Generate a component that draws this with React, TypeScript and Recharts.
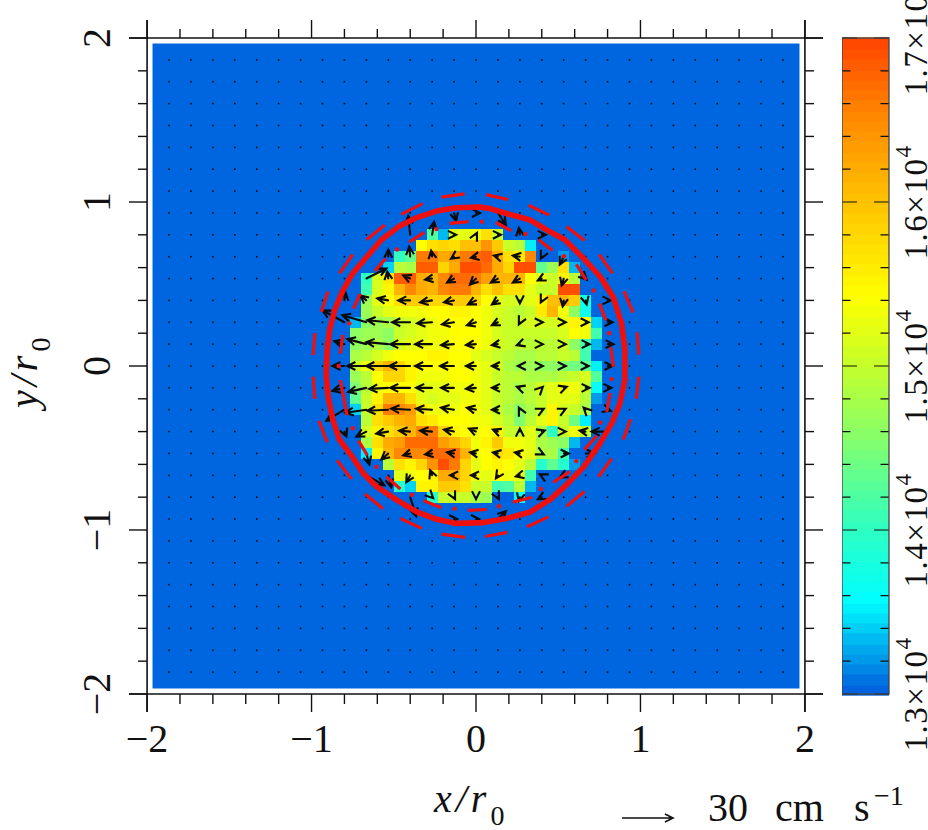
import React from 'react';
import { ScatterChart, Scatter, XAxis, YAxis, ReferenceArea, ReferenceLine } from 'recharts';

const FONT = '"Liberation Serif", serif';
const INK = '#111';
const RED = '#f00f0f';

const xTicks = [-2, -1.8, -1.6, -1.4, -1.2, -1, -0.8, -0.6, -0.4, -0.2, 0, 0.2, 0.4, 0.6, 0.8, 1, 1.2, 1.4, 1.6, 1.8, 2];
const yTicks = xTicks;
const colorTicks = [130, 132, 134, 136, 138, 140, 142, 144, 146, 148, 150, 152, 154, 156, 158, 160, 162, 164, 166, 168, 170];
const colorLabels = ['1.3', '1.4', '1.5', '1.6', '1.7'];

// density in units of 100, grid step is 1/15 r0
const densityRowJ = [12, 11, 10, 9, 8, 7, 6, 5, 4, 3, 2, 1, 0, -1, -2, -3, -4, -5, -6, -7, -8, -9, -10, -11, -12];
const densityRowStart = [-4, -5, -7, -8, -10, -10, -10, -10, -11, -11, -11, -11, -11, -11, -11, -11, -11, -10, -10, -10, -10, -8, -7, -7, -4];
const densityRows = [
  [142, 133, 152, 152, 153, 157, 150],
  [154, 157, 158, 157, 160, 160, 164, 159, 150, 149, 135],
  [140, 143, 166, 166, 162, 163, 166, 167, 168, 162, 157, 156, 165, 130, 130, 132],
  [134, 149, 148, 168, 168, 158, 162, 169, 169, 167, 162, 158, 169, 169, 143, 147, 157, 133],
  [140, 151, 156, 168, 168, 162, 161, 165, 167, 167, 166, 163, 161, 161, 161, 154, 152, 150, 155, 149],
  [141, 151, 155, 161, 165, 162, 161, 165, 166, 166, 161, 157, 160, 157, 157, 152, 150, 150, 169, 169],
  [147, 152, 154, 157, 159, 159, 158, 158, 159, 159, 158, 154, 152, 151, 151, 152, 155, 160, 161, 159, 137],
  [147, 150, 152, 153, 153, 153, 154, 154, 155, 155, 154, 153, 151, 150, 149, 150, 156, 161, 153, 146, 137],
  [133, 146, 147, 148, 150, 151, 152, 153, 154, 154, 154, 154, 153, 151, 150, 150, 151, 151, 151, 152, 155, 154, 134],
  [146, 147, 147, 146, 150, 151, 152, 153, 153, 154, 154, 154, 153, 151, 150, 150, 150, 150, 150, 151, 154, 153, 141],
  [146, 147, 148, 146, 151, 152, 153, 153, 153, 154, 154, 154, 153, 151, 150, 149, 149, 149, 149, 150, 146, 141, 133],
  [148, 149, 151, 153, 154, 154, 154, 155, 155, 154, 154, 152, 151, 150, 149, 148, 148, 149, 149, 150, 149, 141],
  [150, 153, 158, 161, 158, 155, 154, 154, 154, 154, 154, 153, 152, 151, 148, 147, 147, 146, 146, 145, 144, 143, 135],
  [147, 149, 154, 158, 158, 155, 153, 153, 153, 154, 154, 153, 152, 150, 149, 149, 148, 148, 148, 149, 150, 151, 142],
  [145, 149, 153, 154, 154, 154, 152, 152, 152, 153, 153, 153, 152, 150, 149, 148, 149, 151, 152, 153, 153, 150, 136],
  [143, 150, 155, 161, 161, 157, 152, 151, 152, 152, 153, 153, 152, 150, 149, 148, 149, 150, 152, 152, 152, 149, 132],
  [134, 150, 157, 166, 165, 163, 156, 153, 153, 153, 154, 153, 152, 150, 148, 146, 148, 150, 155, 151, 150, 148],
  [149, 157, 159, 161, 162, 157, 156, 154, 154, 154, 153, 153, 151, 149, 145, 149, 152, 155, 150, 144, 135],
  [151, 155, 157, 159, 161, 165, 166, 158, 155, 154, 153, 154, 155, 150, 150, 152, 148, 140, 150, 153, 150],
  [148, 157, 162, 163, 167, 167, 167, 163, 161, 158, 153, 155, 159, 153, 153, 152, 148, 147, 146, 133],
  [135, 155, 161, 165, 165, 165, 167, 167, 167, 161, 153, 154, 157, 156, 154, 152, 148, 148, 141],
  [149, 157, 155, 158, 164, 169, 166, 158, 152, 154, 155, 154, 152, 149, 139, 143, 139, 132],
  [152, 153, 154, 155, 162, 162, 158, 153, 152, 154, 153, 152, 141],
  [139, 134, 155, 155, 159, 159, 157, 150, 150, 141, 142, 149, 133],
  [139, 150, 150, 150, 148, 147, 130, 130, 136],
];

// velocity sample points, same 1/15 r0 index, every second cell
const velocityGrid = [-28, -26, -24, -22, -20, -18, -16, -14, -12, -10, -8, -6, -4, -2, 0, 2, 4, 6, 8, 10, 12, 14, 16, 18, 20, 22, 24, 26, 28];

// [i, j, vx, vy], 51 units = the 30 cm/s key arrow
const velocityArrows = [
  [-2, 14, 2, -8], [0, 14, 4, 0], [2, 14, 8, -12],
  [-6, 12, -2, 19], [-4, 12, 2, 13], [-2, 12, 2, 0], [0, 12, 1, 2], [2, 12, 3, 0], [4, 12, -1, 7], [6, 12, 4, 0],
  [-8, 10, 0, 7], [-6, 10, -1, 10], [-4, 10, -1, 6], [-2, 10, -3, -2], [0, 10, -5, -1], [2, 10, -4, 1], [4, 10, -7, 1], [6, 10, -1, -2], [8, 10, -4, -8],
  [-10, 8, 20, 10], [-8, 8, -1, 7], [-6, 8, -7, 3], [-4, 8, -7, -1], [-2, 8, -7, -4], [0, 8, -6, -6], [2, 8, -7, -4], [4, 8, -7, -4], [6, 8, -4, -2], [8, 8, -2, -7], [10, 8, 1, -1],
  [-12, 6, 1, 8], [-10, 6, -6, 5], [-8, 6, -11, 2], [-6, 6, -12, 0], [-4, 6, -12, -2], [-2, 6, -10, -2], [0, 6, -8, -4], [2, 6, -6, -4], [4, 6, 0, -3], [6, 6, -1, -2], [8, 6, -1, -6], [10, 6, 1, -4], [12, 6, 3, 0],
  [-12, 4, -22, 12], [-10, 4, -24, 7], [-8, 4, -21, 2], [-6, 4, -18, 0], [-4, 4, -15, -1], [-2, 4, -12, -2], [0, 4, -9, -3], [2, 4, -6, -3], [4, 4, -1, -2], [6, 4, 1, 0], [8, 4, 2, 0], [10, 4, 3, 0], [12, 4, 5, 0],
  [-12, 2, -10, 3], [-10, 2, -19, 5], [-8, 2, -22, 2], [-6, 2, -20, 0], [-4, 2, -17, 0], [-2, 2, -13, -1], [0, 2, -10, -1], [2, 2, -6, -1], [4, 2, -3, -1], [6, 2, 1, 0], [8, 2, 2, 0], [10, 2, 4, 0], [12, 2, 6, 0],
  [-12, 0, -12, 0], [-10, 0, -19, 0], [-8, 0, -22, 0], [-6, 0, -21, 0], [-4, 0, -17, 0], [-2, 0, -14, 0], [0, 0, -10, 0], [2, 0, -6, 0], [4, 0, -2, 0], [6, 0, 1, 0], [8, 0, 2, 0], [10, 0, 3, 0], [12, 0, 5, 0],
  [-12, -2, -12, -3], [-10, -2, -18, -4], [-8, -2, -19, -1], [-6, -2, -20, 0], [-4, -2, -16, 0], [-2, -2, -13, 0], [0, -2, -10, -1], [2, -2, -6, 0], [4, -2, -3, 1], [6, -2, 1, 1], [8, -2, 3, 1], [10, -2, 4, 0], [12, -2, 4, 0],
  [-12, -4, -18, -11], [-10, -4, -21, -3], [-8, -4, -21, -1], [-6, -4, -19, 1], [-4, -4, -16, 1], [-2, -4, -13, 2], [0, -4, -9, 2], [2, -4, -6, 0], [4, -4, -1, 2], [6, -4, 2, 1], [8, -4, 2, 1], [10, -4, -2, 2], [12, -4, 3, -1],
  [-12, -6, 2, -5], [-10, -6, -10, -5], [-8, -6, -12, -2], [-6, -6, -11, 1], [-4, -6, -12, 1], [-2, -6, -10, 2], [0, -6, -7, 3], [2, -6, -5, 2], [4, -6, 0, 3], [6, -6, 3, 1], [8, -6, 2, 0], [10, -6, -6, 1], [12, -6, -16, 0],
  [-10, -8, 3, -11], [-8, -8, -7, -6], [-6, -8, -7, -2], [-4, -8, -7, -1], [-2, -8, -7, 1], [0, -8, -6, 1], [2, -8, -5, 1], [4, -8, -5, 1], [6, -8, 2, -1], [8, -8, 5, 0], [10, -8, 9, 0],
  [-10, -10, 18, -10], [-8, -10, 3, -12], [-6, -10, -4, -7], [-4, -10, -2, 5], [-2, -10, -4, 0], [0, -10, -5, 0], [2, -10, -2, -3], [4, -10, -4, -1], [6, -10, -2, 1], [8, -10, -4, -2],
  [-6, -12, 6, -19], [-4, -12, 1, -1], [-2, -12, 1, -2], [0, -12, 0, -2], [2, -12, 1, -2], [4, -12, -1, -4], [6, -12, -4, -2],
  [-2, -14, 3, 0], [0, -14, 3, 0], [2, -14, 8, 8],
];

// thick solid contour, read around the disc
const solidContour = [
  [-0.91, -0.02], [-0.905, 0.1], [-0.89, 0.22], [-0.86, 0.34], [-0.81, 0.46], [-0.75, 0.565], [-0.665, 0.665], [-0.575, 0.77], [-0.47, 0.85], [-0.36, 0.905], [-0.24, 0.945], [-0.12, 0.965], [0.02, 0.97],
  [0.085, 0.96], [0.185, 0.93], [0.33, 0.89], [0.43, 0.83], [0.54, 0.77], [0.655, 0.655], [0.755, 0.545], [0.835, 0.42], [0.885, 0.26], [0.905, 0.1],
  [0.905, 0], [0.905, -0.085], [0.875, -0.23], [0.825, -0.35], [0.755, -0.47], [0.655, -0.615], [0.55, -0.725], [0.45, -0.815], [0.33, -0.89], [0.185, -0.93], [0.045, -0.955],
  [-0.12, -0.96], [-0.24, -0.935], [-0.36, -0.89], [-0.485, -0.815], [-0.605, -0.735], [-0.685, -0.655], [-0.755, -0.55], [-0.83, -0.45], [-0.87, -0.33], [-0.9, -0.185], [-0.91, -0.065], [-0.91, -0.02],
];

// long dashes outside the solid contour: x1, y1, x2, y2
const outerDashes = [
  [-0.99, 0.067, -0.98, 0.2], [-0.94, 0.33, -0.9, 0.455], [-0.83, 0.565, -0.75, 0.68], [-0.665, 0.77, -0.555, 0.86], [-0.455, 0.925, -0.325, 0.99], [-0.21, 1.03, -0.07, 1.05],
  [0.06, 1.045, 0.195, 1.015], [0.32, 0.98, 0.445, 0.92], [0.55, 0.85, 0.66, 0.765], [0.75, 0.68, 0.83, 0.565], [0.9, 0.455, 0.955, 0.325], [0.98, 0.205, 0.99, 0.07],
  [0.99, -0.065, 0.975, -0.2], [0.94, -0.325, 0.895, -0.45], [0.825, -0.565, 0.745, -0.675], [0.66, -0.765, 0.55, -0.855], [0.44, -0.92, 0.31, -0.98], [0.19, -1.015, 0.055, -1.04],
  [-0.065, -1.045, -0.21, -1.025], [-0.33, -0.99, -0.46, -0.93], [-0.565, -0.87, -0.675, -0.78], [-0.757, -0.69, -0.845, -0.575], [-0.905, -0.465, -0.955, -0.335], [-0.98, -0.2, -0.99, -0.065],
];

// dash-dot contour inside the solid one
const innerDashes = [
  [-0.825, 0.075, -0.81, 0.19], [-0.745, 0.35, -0.705, 0.44], [-0.615, 0.58, -0.55, 0.655], [-0.405, 0.755, -0.315, 0.815], [-0.16, 0.87, -0.045, 0.88],
  [0.12, 0.875, 0.215, 0.825], [0.38, 0.77, 0.465, 0.705], [0.61, 0.62, 0.67, 0.525], [0.75, 0.38, 0.79, 0.28], [0.82, 0.115, 0.835, -0.005],
  [0.815, -0.165, 0.795, -0.28], [0.735, -0.425, 0.66, -0.51], [0.57, -0.645, 0.47, -0.71], [0.34, -0.8, 0.225, -0.83], [0.065, -0.875, -0.05, -0.88],
  [-0.21, -0.865, -0.32, -0.82], [-0.46, -0.75, -0.545, -0.675], [-0.66, -0.545, -0.715, -0.455], [-0.785, -0.3, -0.825, -0.085],
];
const innerDots = [
  [-0.77, 0.26], [-0.48, 0.71], [-0.24, 0.835], [0.035, 0.88], [0.3, 0.805], [0.535, 0.67], [0.715, 0.46], [0.81, 0.2],
  [0.825, -0.08], [0.755, -0.345], [0.61, -0.58], [0.395, -0.75], [0.14, -0.855], [-0.13, -0.87], [-0.39, -0.785], [-0.605, -0.615], [-0.75, -0.38], [-0.835, 0],
];

const colorLevels = [
  130, 130.6, 131.3, 131.9, 132.5, 133.1, 133.8, 134.4, 135, 135.6, 136.3, 136.9, 137.5, 138.1, 138.8, 139.4,
  140, 140.6, 141.3, 141.9, 142.5, 143.1, 143.8, 144.4, 145, 145.6, 146.3, 146.9, 147.5, 148.1, 148.8, 149.4,
  150, 150.6, 151.3, 151.9, 152.5, 153.1, 153.8, 154.4, 155, 155.6, 156.3, 156.9, 157.5, 158.1, 158.8, 159.4,
  160, 160.6, 161.3, 161.9, 162.5, 163.1, 163.8, 164.4, 165, 165.6, 166.3, 166.9, 167.5, 168.1, 168.8, 169.4,
];
const colorStops: [number, number[]][] = [
  [130, [0, 98, 222]],
  [135.5, [0, 255, 255]],
  [140, [48, 255, 192]],
  [145, [128, 255, 112]],
  [150, [200, 255, 40]],
  [154, [255, 255, 0]],
  [160, [255, 192, 0]],
  [165, [255, 136, 0]],
  [170, [255, 64, 0]],
];

function colorFor(v: number) {
  for (let k = 1; k < colorStops.length; k++) {
    const [v1, c1] = colorStops[k];
    const [v0, c0] = colorStops[k - 1];
    if (v <= v1) {
      const t = Math.max(0, (v - v0) / (v1 - v0));
      return `rgb(${c0.map((c, n) => Math.round(c + (c1[n] - c) * t)).join(',')})`;
    }
  }
  return 'rgb(255,64,0)';
}

const cells = densityRows.flatMap((row, r) =>
  row.map((value, n) => ({ x: (densityRowStart[r] + n) / 15, y: densityRowJ[r] / 15, value }))
);
const dots = velocityGrid.flatMap(i => velocityGrid.map(j => ({ x: i / 15, y: j / 15 })));
const arrows = velocityArrows.map(([i, j, vx, vy]) => ({ x: i / 15, y: j / 15, vx, vy }));
const contourPoints = solidContour.map(([x, y]) => ({ x, y }));
const colorBands = colorLevels.map(level => ({ x: 0.5, y: level + 0.3125, value: level }));
const colorTickMarks = colorTicks.map(value => ({ x: 0.5, y: value, value }));

const CELL = 164.3 / 15;

function CellMark({ cx, cy, payload }: any) {
  return <rect x={cx - CELL / 2} y={cy - CELL / 2} width={CELL} height={CELL} fill={colorFor(payload.value)} shapeRendering="crispEdges" />;
}

// bands are painted upward, each one overlaps the band under it
function BandMark({ cx, cy, payload }: any) {
  return <rect x={cx - 23.5} y={cy - 5.2} width={47} height={12} fill={colorFor(payload.value)} />;
}

function ColorTickMark({ cx, cy, payload }: any) {
  const len = payload.value % 10 === 0 ? 15 : 8.5;
  return (
    <path
      d={`M${cx - 23.5} ${cy}h${len}M${cx + 23.5} ${cy}h${-len}`}
      fill="none"
      stroke={INK}
      strokeWidth={1.2}
    />
  );
}

function ColorFrame({ cx, cy }: any) {
  return <rect x={cx - 23.5} y={cy - 328} width={47} height={656} fill="none" stroke="#444" strokeWidth={1.3} />;
}

function DotMark({ cx, cy }: any) {
  return <rect x={cx - 0.8} y={cy - 0.8} width={1.6} height={1.6} fill="#0a0a0a" />;
}

function arrowPath(x0: number, y0: number, dx: number, dy: number) {
  const x1 = x0 + dx;
  const y1 = y0 - dy;
  const a = Math.atan2(-dy, dx);
  const b = 0.46;
  const h = 9;
  const p1 = [x1 - h * Math.cos(a - b), y1 - h * Math.sin(a - b)];
  const p2 = [x1 - h * Math.cos(a + b), y1 - h * Math.sin(a + b)];
  return `M${x0} ${y0}L${x1} ${y1}M${p1[0]} ${p1[1]}L${x1} ${y1}L${p2[0]} ${p2[1]}`;
}

function ArrowMark({ cx, cy, payload }: any) {
  return <path d={arrowPath(cx, cy, payload.vx, payload.vy)} fill="none" stroke="#0a0a0a" strokeWidth={2.1} />;
}

const noMark = () => null;

function BottomTick({ x, payload }: any) {
  const major = Number.isInteger(payload.value);
  return (
    <g>
      <line x1={x} x2={x} y1={694} y2={major ? 712 : 704} stroke={INK} strokeWidth={1.4} />
      {major && (
        <text x={x} y={752} textAnchor="middle" fontFamily={FONT} fontSize={40} fill={INK}>
          {payload.value < 0 ? '\u2212' + -payload.value : payload.value}
        </text>
      )}
    </g>
  );
}

function TopTick({ x, payload }: any) {
  const major = Number.isInteger(payload.value);
  return <line x1={x} x2={x} y1={38} y2={major ? 20 : 29} stroke={INK} strokeWidth={1.4} />;
}

function LeftTick({ y, payload }: any) {
  const major = Number.isInteger(payload.value);
  return (
    <g>
      <line x1={147} x2={major ? 129 : 138} y1={y} y2={y} stroke={INK} strokeWidth={1.4} />
      {major && (
        <text x={110} y={y} transform={`rotate(-90 110 ${y})`} textAnchor="middle" fontFamily={FONT} fontSize={40} fill={INK}>
          {payload.value < 0 ? '\u2212' + -payload.value : payload.value}
        </text>
      )}
    </g>
  );
}

function RightTick({ y, payload }: any) {
  const major = Number.isInteger(payload.value);
  return <line x1={805} x2={major ? 823 : 814} y1={y} y2={y} stroke={INK} strokeWidth={1.4} />;
}

function ColorLabel({ y, payload, index }: any) {
  if (payload.value % 10 !== 0) return <g />;
  return (
    <text x={85} y={y} transform={`rotate(-90 85 ${y})`} textAnchor="middle" fontFamily={FONT} fontSize={33} letterSpacing={1.5} fill={INK}>
      {colorLabels[index / 5]}×10
      <tspan fontSize={23} dy={-16}>4</tspan>
    </text>
  );
}

function ColorBar() {
  return (
    <div style={{ position: 'absolute', left: 842, top: 0 }}>
      <ScatterChart width={86} height={830} margin={{ top: 38, right: 0, bottom: 136, left: 0 }}>
        <XAxis type="number" dataKey="x" domain={[0, 1]} hide />
        <YAxis
          type="number"
          dataKey="y"
          orientation="right"
          width={39}
          domain={[130, 170]}
          ticks={colorTicks}
          interval={0}
          axisLine={false}
          tickLine={false}
          tick={ColorLabel}
        />
        <Scatter data={colorBands} shape={BandMark} isAnimationActive={false} />
        <Scatter data={colorTickMarks} shape={ColorTickMark} isAnimationActive={false} />
        <Scatter data={[{ x: 0.5, y: 150 }]} shape={ColorFrame} isAnimationActive={false} />
      </ScatterChart>
    </div>
  );
}

export default function App() {
  return (
    <div style={{ position: 'absolute', left: 0, top: 0, width: 928, height: 830, overflow: 'hidden', background: '#fff' }}>
      <ScatterChart width={928} height={830} margin={{ top: 0, right: 0, bottom: 0, left: 0 }}>
        <XAxis
          type="number"
          dataKey="x"
          height={118}
          domain={[-2.11, 2.11]}
          ticks={xTicks}
          interval={0}
          axisLine={false}
          tickLine={false}
          tick={BottomTick}
        />
        <XAxis
          xAxisId="top"
          orientation="top"
          type="number"
          dataKey="x"
          height={20}
          domain={[-2.11, 2.11]}
          ticks={xTicks}
          interval={0}
          axisLine={false}
          tickLine={false}
          tick={TopTick}
        />
        <YAxis
          type="number"
          dataKey="y"
          width={129}
          domain={[-2.11, 2.11]}
          ticks={yTicks}
          interval={0}
          axisLine={false}
          tickLine={false}
          tick={LeftTick}
        />
        <YAxis
          yAxisId="right"
          orientation="right"
          type="number"
          dataKey="y"
          width={105}
          domain={[-2.11, 2.11]}
          ticks={yTicks}
          interval={0}
          axisLine={false}
          tickLine={false}
          tick={RightTick}
        />
        <ReferenceArea x1={-1.967} x2={1.967} y1={-1.967} y2={1.967} fill="#0066e0" fillOpacity={1} stroke="none" />
        <ReferenceLine x={-2} stroke={INK} strokeWidth={1.6} />
        <ReferenceLine x={2} stroke={INK} strokeWidth={1.6} />
        <ReferenceLine y={-2} stroke={INK} strokeWidth={1.6} />
        <ReferenceLine y={2} stroke={INK} strokeWidth={1.6} />

        <Scatter data={cells} shape={CellMark} isAnimationActive={false} />
        <Scatter data={dots} shape={DotMark} isAnimationActive={false} />
        <Scatter data={arrows} shape={ArrowMark} isAnimationActive={false} />
        <Scatter xAxisId="top" yAxisId="right" data={contourPoints} shape={noMark} isAnimationActive={false} />

        {outerDashes.map((d, n) => (
          <Scatter
            key={'outer' + n}
            data={[{ x: d[0], y: d[1] }, { x: d[2], y: d[3] }]}
            shape={noMark}
            line={{ stroke: RED, strokeWidth: 3.2 }}
            isAnimationActive={false}
          />
        ))}
        {innerDashes.map((d, n) => (
          <Scatter
            key={'inner' + n}
            data={[{ x: d[0], y: d[1] }, { x: d[2], y: d[3] }]}
            shape={noMark}
            line={{ stroke: RED, strokeWidth: 3.2 }}
            isAnimationActive={false}
          />
        ))}
        <Scatter
          data={innerDots.map(([x, y]) => ({ x, y }))}
          shape={({ cx, cy }: any) => <circle cx={cx} cy={cy} r={2.2} fill={RED} />}
          isAnimationActive={false}
        />
        <Scatter
          data={contourPoints}
          shape={noMark}
          line={{ stroke: RED, strokeWidth: 5.6, strokeLinejoin: 'round' }}
          isAnimationActive={false}
        />

        {/* axis titles and the velocity key */}
        <text x={434} y={812} fontFamily={FONT} fontSize={40} fontStyle="italic" letterSpacing={4} fill={INK}>
          x/r
          <tspan fontStyle="normal" fontSize={28} dy={13}>0</tspan>
        </text>
        <text x={37} y={408} transform="rotate(-90 37 408)" fontFamily={FONT} fontSize={40} fontStyle="italic" letterSpacing={4} fill={INK}>
          y/r
          <tspan fontStyle="normal" fontSize={28} dy={13}>0</tspan>
        </text>
        <path d={arrowPath(622, 818, 51, 0)} fill="none" stroke={INK} strokeWidth={1.6} />
        <text x={708} y={821} fontFamily={FONT} fontSize={40} fill={INK}>30</text>
        <text x={775} y={821} fontFamily={FONT} fontSize={40} fill={INK}>cm</text>
        <text x={854} y={821} fontFamily={FONT} fontSize={40} fill={INK}>s</text>
        <text x={874} y={805} fontFamily={FONT} fontSize={28} fill={INK}>−1</text>
      </ScatterChart>
      <ColorBar />
    </div>
  );
}
